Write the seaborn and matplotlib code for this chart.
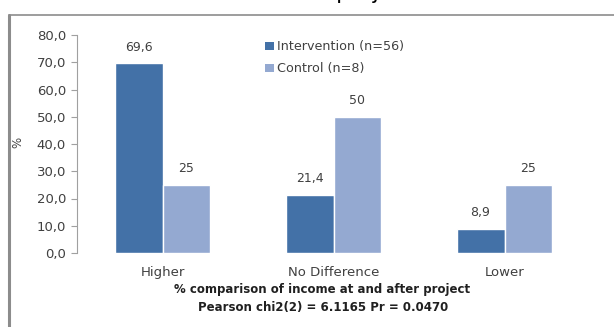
import matplotlib
matplotlib.use("Agg")
import matplotlib.pyplot as plt
import seaborn as sns
import pandas as pd
from matplotlib.lines import Line2D
from matplotlib.patches import Patch

# Income comparison categories and group shares (%)
categories = ["Higher", "No Difference", "Lower"]
intervention = [69.6, 21.4, 8.9]
control = [25, 50, 25]
series_names = ["Intervention (n=56)", "Control (n=8)"]
y_ticks = [0, 10, 20, 30, 40, 50, 60, 70, 80]
colors = ["#4371A7", "#94A9D1"]

sns.set_theme(style="white")
plt.rcParams["font.family"] = ["DejaVu Sans"]

df = pd.DataFrame({
    "category": categories * 2,
    "value": intervention + control,
    "group": [series_names[0]] * 3 + [series_names[1]] * 3,
})

fig = plt.figure(figsize=(6.14, 3.27), dpi=100)
ax = fig.add_axes([77 / 614, 74 / 327, 513 / 614, 218 / 327])

sns.barplot(data=df, x="category", y="value", hue="group", order=categories,
            hue_order=series_names, palette=colors, width=0.56, gap=0,
            saturation=1, ax=ax, legend=False, errorbar=None)

ax.set_xlim(-0.5, 2.5)
ax.set_ylim(0, 80)
ax.set_yticks(y_ticks)
ax.set_yticklabels([f"{t:.1f}".replace(".", ",") for t in y_ticks],
                   fontsize=9.5, color="#404040")
ax.tick_params(axis="y", which="both", left=True, length=4, width=0.8,
               color="#A0A0A0", pad=4)
ax.tick_params(axis="x", bottom=False, labelsize=9.5, labelcolor="#404040", pad=3.5)

for side in ["top", "right", "bottom"]:
    ax.spines[side].set_visible(False)
ax.spines["left"].set_color("#A0A0A0")
ax.spines["left"].set_linewidth(0.8)

ax.set_xlabel("")
ax.set_ylabel("%", fontsize=8.5, color="#404040")
ax.yaxis.set_label_coords(-0.103, 0.505)

# Value labels above each bar
label_sets = [
    [f"{v:.1f}".replace(".", ",") for v in intervention],
    [f"{v:g}" for v in control],
]
for container, labels in zip(ax.containers, label_sets):
    ax.bar_label(container, labels=labels, padding=7, fontsize=9, color="#404040")

handles = [Patch(facecolor=c, edgecolor="none") for c in colors]
ax.legend(handles, series_names, loc="upper left",
          bbox_to_anchor=(0.366, 0.975), frameon=False, fontsize=9.2,
          handlelength=0.75, handleheight=0.65, handletextpad=0.2,
          labelspacing=0.7, borderpad=0, borderaxespad=0, labelcolor="#404040")

# Axis title lines under the category labels
fig.text(322 / 614, 1 - 289 / 327, "% comparison of income at and after project",
         ha="center", va="center", fontsize=8.5, fontweight="bold", color="#202020")
fig.text(323 / 614, 1 - 308 / 327, "Pearson chi2(2) = 6.1165 Pr = 0.0470",
         ha="center", va="center", fontsize=8.5, fontweight="bold", color="#202020")

# Heading of the chart frame, running off the top edge
fig.text(0.5, 1 + 1 / 327, "me at the time of the project and after",
         ha="center", va="baseline", fontsize=16, color="#000000")

# Chart frame border
fig.add_artist(Line2D([9 / 614, 9 / 614], [0, 1 - 14.5 / 327],
                      transform=fig.transFigure, color="#8C8C8C", lw=2.2))
fig.add_artist(Line2D([9 / 614, 1], [1 - 14.5 / 327, 1 - 14.5 / 327],
                      transform=fig.transFigure, color="#8C8C8C", lw=1.2))

fig.savefig("out.png", dpi=100)
